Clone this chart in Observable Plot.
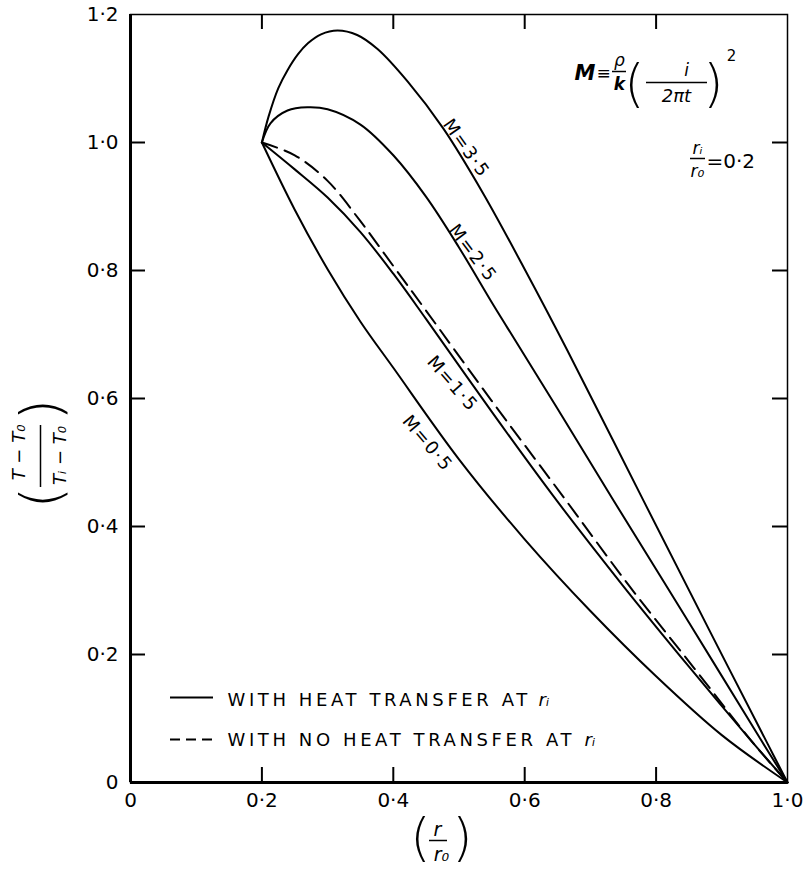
<!DOCTYPE html>
<html><head><meta charset="utf-8">
<script src="https://cdn.jsdelivr.net/npm/d3@7"></script>
<script src="https://cdn.jsdelivr.net/npm/@observablehq/plot@0.6"></script>
<style>body{margin:0;background:#fff}</style>
</head><body><div id="chart"></div>
<script>
// ---- data ----
const xTicks = [0, 0.2, 0.4, 0.6, 0.8, 1.0];
const yTicks = [0, 0.2, 0.4, 0.6, 0.8, 1.0, 1.2];

const m35x = [0.2, 0.21, 0.225, 0.239, 0.255, 0.27, 0.29, 0.315, 0.345, 0.376, 0.422, 0.476, 0.537, 0.601, 0.665, 0.781, 0.88, 0.97, 1.0];
const m35y = [1.0, 1.04, 1.085, 1.113, 1.138, 1.155, 1.169, 1.175, 1.168, 1.146, 1.095, 1.022, 0.92, 0.80, 0.675, 0.44, 0.24, 0.06, 0];
const m25x = [0.2, 0.213, 0.239, 0.269, 0.3, 0.35, 0.4, 0.45, 0.5, 0.55, 0.574, 0.65, 0.735, 0.85, 0.96, 1.0];
const m25y = [1.0, 1.03, 1.05, 1.055, 1.052, 1.028, 0.98, 0.915, 0.836, 0.75, 0.71, 0.584, 0.441, 0.25, 0.066, 0];
const m15x = [0.2, 0.25, 0.3, 0.35, 0.4, 0.45, 0.55, 0.644, 0.75, 0.85, 0.94, 1.0];
const m15y = [1.0, 0.958, 0.914, 0.86, 0.795, 0.724, 0.579, 0.447, 0.307, 0.181, 0.071, 0];
const m05x = [0.2, 0.25, 0.3, 0.35, 0.4, 0.5, 0.6, 0.7, 0.8, 0.9, 1.0];
const m05y = [1.0, 0.895, 0.802, 0.72, 0.648, 0.505, 0.38, 0.268, 0.166, 0.074, 0];
const noHtx = [0.2, 0.25, 0.3, 0.35, 0.4, 0.45, 0.55, 0.654, 0.76, 0.86, 0.945, 1.0];
const noHty = [1.0, 0.98, 0.94, 0.877, 0.807, 0.737, 0.596, 0.453, 0.306, 0.176, 0.065, 0];

const curveLabels = ["M=3·5", "M=2·5", "M=1·5", "M=0·5"];
const labelX = [0.511, 0.521, 0.490, 0.452];
const labelY = [0.991, 0.827, 0.623, 0.530];
const labelAngle = [55, 53, 49, 50];

const legendTexts = ["WITH HEAT TRANSFER AT", "WITH NO HEAT TRANSFER AT"];

// ---- layout ----
const W = 808, H = 871, ML = 130, MR = 21, MT = 14, MB = 89;
const innerW = W - ML - MR, innerH = H - MT - MB;
const X = px => (px - ML) / innerW;
const Y = py => (H - MB - py) / innerH * 1.2;
const FONT = "DejaVu Sans";
const tkX = 15 / innerW, tkY = 15 / innerH * 1.2;
const fmt = d => d === 0 ? "0" : d.toFixed(1).replace(".", "·");

const rows = (id, xs, ys) => xs.map((x, i) => ({id, x, y: ys[i]}));
const solid = [
  ...rows("M=3.5", m35x, m35y),
  ...rows("M=2.5", m25x, m25y),
  ...rows("M=1.5", m15x, m15y),
  ...rows("M=0.5", m05x, m05y)
];
const dashed = rows("no", noHtx, noHty);
const labels = curveLabels.map((t, i) => ({t, x: labelX[i], y: labelY[i], r: labelAngle[i]}));

const T = (str, px, py, o = {}) => Plot.text([str], {x: X(px), y: Y(py), text: d => d, fontSize: 18, fontFamily: FONT, fill: "black", ...o});
const bar = (py, a, b, w = 1.5) => Plot.ruleY([Y(py)], {x1: X(a), x2: X(b), stroke: "black", strokeWidth: w});

const innerX = xTicks.filter(d => d > 0 && d < 1);
const innerY = yTicks.filter(d => d > 0 && d < 1.2);

const svg = Plot.plot({
  width: W, height: H,
  marginLeft: ML, marginRight: MR, marginTop: MT, marginBottom: MB,
  x: {domain: [0, 1], axis: null},
  y: {domain: [0, 1.2], axis: null},
  style: {background: "white", color: "black", fontFamily: FONT},
  marks: [
    Plot.frame({stroke: "black", strokeWidth: 1.5}),
    Plot.ruleX([0], {stroke: "black", strokeWidth: 3}),
    Plot.ruleY([0], {stroke: "black", strokeWidth: 3}),
    Plot.ruleX(innerX, {y1: 0, y2: tkY, stroke: "black", strokeWidth: 2}),
    Plot.ruleX(innerX, {y1: 1.2, y2: 1.2 - tkY, stroke: "black", strokeWidth: 2}),
    Plot.ruleY(innerY, {x1: 0, x2: tkX, stroke: "black", strokeWidth: 2}),
    Plot.ruleY(innerY, {x1: 1, x2: 1 - tkX, stroke: "black", strokeWidth: 2}),
    Plot.text(xTicks, {x: d => d, y: 0, text: fmt, dy: 18, fontSize: 20, fontFamily: FONT, fill: "black"}),
    Plot.text(yTicks, {x: 0, y: d => d, text: fmt, dx: -12, textAnchor: "end", fontSize: 20, fontFamily: FONT, fill: "black"}),
    Plot.line(solid, {x: "x", y: "y", z: "id", curve: "catmull-rom", stroke: "black", strokeWidth: 2}),
    Plot.line(dashed, {x: "x", y: "y", curve: "catmull-rom", stroke: "black", strokeWidth: 2, strokeDasharray: "16,8"}),
    Plot.text(labels, {x: "x", y: "y", text: "t", rotate: "r", fontSize: 18, fontFamily: FONT, fill: "black"}),
    // legend
    bar(697, 170, 213, 2),
    Plot.ruleY([Y(739)], {x1: X(170), x2: X(213), stroke: "black", strokeWidth: 2, strokeDasharray: "10,6"}),
    T(legendTexts[0], 227, 700, {textAnchor: "start"}),
    T(legendTexts[1], 227, 740, {textAnchor: "start"}),
    T("rᵢ", 538, 700, {textAnchor: "start", fontStyle: "italic"}),
    T("rᵢ", 584, 740, {textAnchor: "start", fontStyle: "italic"}),
    // formula
    T("M", 595, 73, {textAnchor: "end", fontStyle: "italic", fontWeight: "bold", fontSize: 21}),
    T("≡", 596, 73, {textAnchor: "start", fontSize: 17}),
    T("ρ", 619, 60, {fontStyle: "italic", fontSize: 17}),
    bar(71, 612, 626),
    T("k", 619, 84, {fontStyle: "italic", fontWeight: "bold", fontSize: 17}),
    T("(", 634, 84, {fontSize: 52, fontWeight: 200}),
    T("i", 686, 70, {fontStyle: "italic", fontSize: 17}),
    bar(82, 646, 707),
    T("2πt", 676, 96, {fontStyle: "italic", fontSize: 18}),
    T(")", 713, 84, {fontSize: 52, fontWeight: 200}),
    T("2", 731, 56, {fontSize: 15}),
    // ratio
    T("rᵢ", 697, 148, {fontStyle: "italic", fontSize: 17}),
    bar(158, 690, 705),
    T("r₀", 697, 171, {fontStyle: "italic", fontSize: 17}),
    T("=0·2", 706, 161, {textAnchor: "start", fontSize: 20}),
    // x axis title
    T("(", 420, 838, {fontSize: 52, fontWeight: 200}),
    T("r", 437, 829, {fontStyle: "italic", fontSize: 19}),
    bar(840, 429, 447),
    T("r₀", 441, 854, {fontStyle: "italic", fontSize: 19}),
    T(")", 462, 838, {fontSize: 52, fontWeight: 200}),
    // y axis title
    T("(", 42, 497, {fontSize: 56, fontWeight: 200, rotate: -90}),
    T("T − T₀", 19, 452, {fontStyle: "italic", fontSize: 18, rotate: -90}),
    Plot.ruleX([X(40)], {y1: Y(425), y2: Y(487), stroke: "black", strokeWidth: 1.5}),
    T("Tᵢ − T₀", 60, 455, {fontStyle: "italic", fontSize: 18, rotate: -90}),
    T(")", 42, 409, {fontSize: 56, fontWeight: 200, rotate: -90})
  ]
});

d3.select(svg).selectAll("text")
  .filter(function() { return this.textContent.startsWith("WITH"); })
  .attr("letter-spacing", "3.6px");
d3.select(svg).selectAll("text")
  .filter(function() { return this.textContent.startsWith("M="); })
  .attr("letter-spacing", "1.5px");

document.getElementById("chart").appendChild(svg);
</script>
</body></html>
